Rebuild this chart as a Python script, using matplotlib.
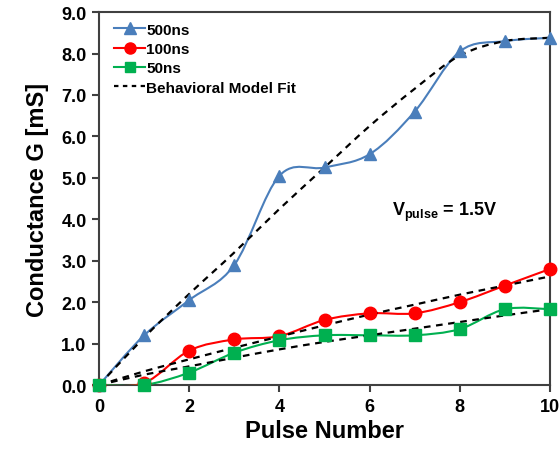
import numpy as np
import matplotlib
matplotlib.use('Agg')
import matplotlib.pyplot as plt
from matplotlib.path import Path
from matplotlib.patches import PathPatch
from matplotlib.lines import Line2D

plt.rcParams['font.family'] = ['Liberation Sans', 'DejaVu Sans']
plt.rcParams['mathtext.fontset'] = 'custom'
plt.rcParams['mathtext.rm'] = 'Liberation Sans:bold'
plt.rcParams['mathtext.it'] = 'Liberation Sans:bold'
plt.rcParams['mathtext.bf'] = 'Liberation Sans:bold'

pulses = [0, 1, 2, 3, 4, 5, 6, 7, 8, 9, 10]
g_500 = [0.0, 1.2, 2.05, 2.9, 5.05, 5.25, 5.57, 6.6, 8.05, 8.3, 8.38]
g_100 = [0.0, 0.05, 0.83, 1.1, 1.18, 1.57, 1.73, 1.73, 2.0, 2.4, 2.8]
g_50 = [0.0, 0.0, 0.3, 0.78, 1.08, 1.2, 1.2, 1.2, 1.35, 1.83, 1.83]
fit_500 = [0.0, 1.15, 2.2, 3.2, 4.25, 5.25, 6.25, 7.15, 7.95, 8.3, 8.38]
fit_100 = [0.0, 0.33, 0.62, 0.9, 1.17, 1.44, 1.7, 1.94, 2.18, 2.4, 2.62]
fit_50 = [0.0, 0.25, 0.45, 0.66, 0.86, 1.04, 1.2, 1.36, 1.52, 1.68, 1.83]

c_blue = '#4A7EBB'
c_red = '#FF0000'
c_green = '#00B050'


def smooth_path(x, y):
    # excel-style smoothed line as cubic bezier segments
    p = np.column_stack([x, y]).astype(float)
    n = len(p)
    verts = [p[0]]
    codes = [Path.MOVETO]
    for i in range(n - 1):
        p0 = p[i - 1] if i > 0 else p[i]
        p3 = p[i + 2] if i + 2 < n else p[i + 1]
        c1 = p[i] + (p[i + 1] - p0) / 6.0
        c2 = p[i + 1] - (p3 - p[i]) / 6.0
        verts += [c1, c2, p[i + 1]]
        codes += [Path.CURVE4] * 3
    return Path(verts, codes)


fig = plt.figure(figsize=(5.6, 4.52), dpi=100)
ax = fig.add_axes([0.177, 0.146, 0.805, 0.825])

for fit in [fit_500, fit_100, fit_50]:
    ax.add_patch(PathPatch(smooth_path(pulses, fit), fill=False, ec='black',
                           lw=1.6, ls=(0, (3, 2.5)), zorder=4))

series = [(g_500, c_blue, '^', 9, '500ns'),
          (g_100, c_red, 'o', 9, '100ns'),
          (g_50, c_green, 's', 8, '50ns')]
handles = []
for g, c, m, ms, lab in series:
    ax.add_patch(PathPatch(smooth_path(pulses, g), fill=False, ec=c, lw=1.5, zorder=3))
    ax.plot(pulses, g, ls='none', marker=m, ms=ms, color=c, mec=c, zorder=5, clip_on=False)
    handles.append(Line2D([], [], color=c, lw=1.5, marker=m, ms=ms - 1, label=lab))
handles.append(Line2D([], [], color='black', lw=1.6, ls=(0, (2, 2)), label='Behavioral Model Fit'))

ax.set_xlim(0, 10)
ax.set_ylim(0, 9)
ax.set_xticks(range(0, 11, 2))
ax.set_yticks(np.arange(0, 9.5, 1.0))
ax.set_yticklabels(['%.1f' % v for v in np.arange(0, 9.5, 1.0)])
ax.tick_params(direction='out', length=5, width=1.5, color='#404040',
               labelsize=13, pad=4)
for lab in ax.get_xticklabels() + ax.get_yticklabels():
    lab.set_fontweight('bold')
for sp in ax.spines.values():
    sp.set_color('#404040')
    sp.set_linewidth(1.5)

ax.set_xlabel('Pulse Number', fontsize=17, fontweight='bold', labelpad=3)
ax.set_ylabel('Conductance G [mS]', fontsize=17, fontweight='bold', labelpad=9)

ax.legend(handles=handles, loc='upper left', frameon=False,
          prop={'weight': 'bold', 'size': 11}, handlelength=2.0, handletextpad=0.1,
          labelspacing=0.35, borderaxespad=0.3, bbox_to_anchor=(0.01, 1.0))

ax.text(6.5, 4.2, r'V$_{\rm pulse}$ = 1.5V', fontsize=13, fontweight='bold', va='center')

fig.savefig('out.png', dpi=100)
